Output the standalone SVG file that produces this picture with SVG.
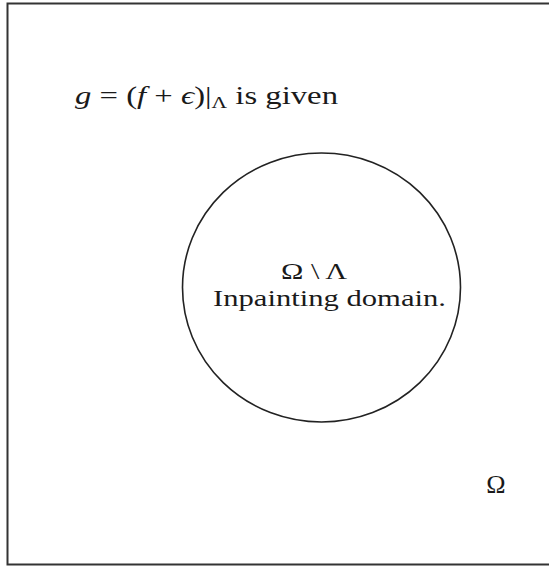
<svg xmlns="http://www.w3.org/2000/svg" width="549" height="569" viewBox="0 0 549 569">
<style>
.t{font-family:"Liberation Serif","Times New Roman",serif;font-size:26px;fill:#1a1a1a}
.c{font-size:24px}
.i{font-style:italic}
</style>
<rect width="549" height="569" fill="#fff"/>
<g id="frame">
<path d="M551 3.5 H7.5 V564.5 H551" fill="none" stroke="#333" stroke-width="2"/>
</g>
<g id="given">
<text class="t" x="75" y="104" textLength="263" lengthAdjust="spacingAndGlyphs"><tspan class="i">g</tspan> = (<tspan class="i">f</tspan> + <tspan class="i">ϵ</tspan>)|<tspan font-size="17" dy="4">Λ</tspan><tspan dy="-4"> is given</tspan></text>
</g>
<g id="inpainting">
<ellipse cx="321.5" cy="287.5" rx="139" ry="134.5" fill="none" stroke="#222" stroke-width="1.6"/>
<text class="t c" x="281" y="279" textLength="66" lengthAdjust="spacingAndGlyphs">Ω \ Λ</text>
<text class="t c" x="213" y="306" textLength="233" lengthAdjust="spacingAndGlyphs">Inpainting domain.</text>
</g>
<g id="omega">
<text class="t" x="496" y="493" text-anchor="middle">Ω</text>
</g>
</svg>
